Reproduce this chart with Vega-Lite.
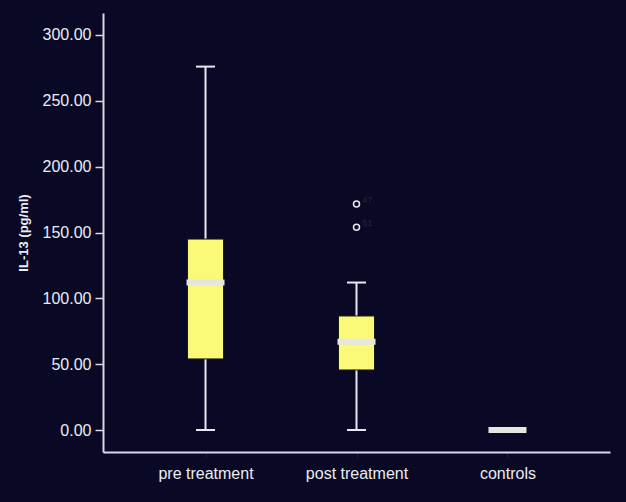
{
  "$schema": "https://vega.github.io/schema/vega-lite/v6.json",
  "width": 507,
  "height": 439,
  "autosize": {"type": "none"},
  "padding": {"left": 103, "top": 13, "right": 16, "bottom": 50},
  "background": "#090925",
  "config": {
    "view": {"stroke": null},
    "font": "Liberation Sans",
    "axis": {"grid": false, "domainColor": "#d8d8e8", "domainWidth": 2, "labelColor": "#ececf4", "titleColor": "#ececf4"}
  },
  "datasets": {
    "boxes": [
      {"group": "pre treatment", "min": 0, "q1": 54, "median": 112, "q3": 145, "max": 276},
      {"group": "post treatment", "min": 0, "q1": 45.6, "median": 67, "q3": 86.6, "max": 112},
      {"group": "controls", "min": 0, "q1": 0, "median": 0, "q3": 0, "max": 0}
    ],
    "outliers": [
      {"group": "post treatment", "value": 171.6, "label": "47"},
      {"group": "post treatment", "value": 154, "label": "51"}
    ]
  },
  "encoding": {
    "x": {
      "field": "group", "type": "nominal",
      "sort": ["pre treatment", "post treatment", "controls"],
      "scale": {"type": "point", "padding": 0.679},
      "axis": {"title": null, "labelAngle": 0, "labelFontSize": 16, "labelPadding": 8, "tickColor": "#202030", "tickSize": 5}
    }
  },
  "layer": [
    {
      "data": {"name": "boxes"},
      "mark": {"type": "rule", "color": "#e8e8f0", "strokeWidth": 2},
      "encoding": {
        "y": {
          "field": "min", "type": "quantitative",
          "scale": {"domain": [-16.7, 316.7], "nice": false, "zero": false},
          "axis": {"values": [0, 50, 100, 150, 200, 250, 300], "format": ".2f", "title": "IL-13 (pg/ml)", "titleFontSize": 13, "titleFontWeight": "bold", "titlePadding": 12, "labelFontSize": 16, "labelPadding": 4, "tickColor": "#d8d8e8", "tickSize": 8, "tickWidth": 1.5}
        },
        "y2": {"field": "max"}
      }
    },
    {
      "data": {"name": "boxes"},
      "mark": {"type": "tick", "color": "#e8e8f0", "opacity": 1, "size": 19, "thickness": 2, "orient": "horizontal"},
      "encoding": {"y": {"field": "min", "type": "quantitative"}}
    },
    {
      "data": {"name": "boxes"},
      "mark": {"type": "tick", "color": "#e8e8f0", "opacity": 1, "size": 19, "thickness": 2, "orient": "horizontal"},
      "encoding": {"y": {"field": "max", "type": "quantitative"}}
    },
    {
      "data": {"name": "boxes"},
      "mark": {"type": "bar", "color": "#fafa78", "size": 36, "stroke": "#1a1a10", "strokeWidth": 1},
      "encoding": {
        "y": {"field": "q1", "type": "quantitative"},
        "y2": {"field": "q3"}
      }
    },
    {
      "data": {"name": "boxes"},
      "mark": {"type": "tick", "color": "#e6e6e0", "opacity": 1, "size": 38, "thickness": 6, "orient": "horizontal"},
      "encoding": {"y": {"field": "median", "type": "quantitative"}}
    },
    {
      "data": {"name": "outliers"},
      "mark": {"type": "point", "shape": "circle", "filled": false, "color": "#e8e8f0", "opacity": 1, "strokeWidth": 1.5, "size": 36},
      "encoding": {"y": {"field": "value", "type": "quantitative"}}
    },
    {
      "data": {"name": "outliers"},
      "mark": {"type": "text", "color": "#24243e", "fontSize": 9, "align": "left", "dx": 6, "dy": -4},
      "encoding": {"y": {"field": "value", "type": "quantitative"}, "text": {"field": "label"}}
    }
  ]
}
